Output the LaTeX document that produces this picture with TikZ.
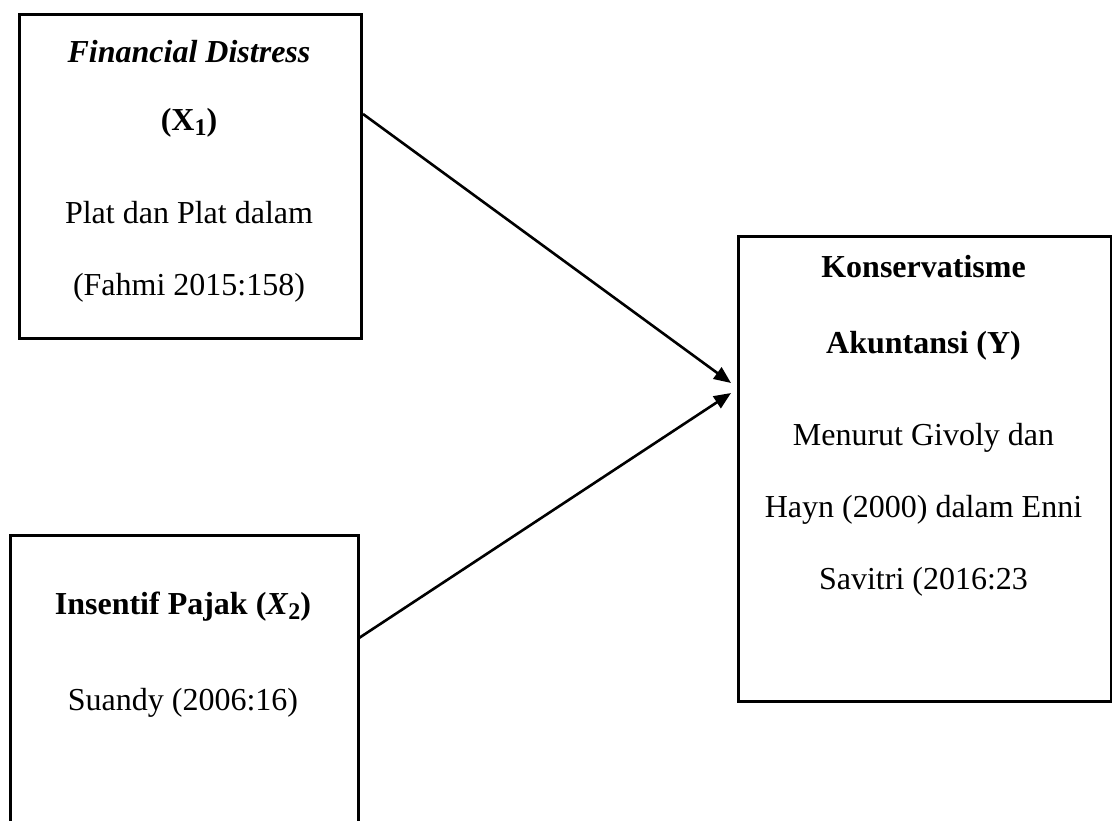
\documentclass[tikz,border=0pt]{standalone}
\usepackage{fontspec}
\setmainfont{Liberation Serif}
\usetikzlibrary{arrows.meta}
\newcommand{\subx}[1]{\raisebox{-0.4ex}{\fontsize{12}{12}\selectfont #1}}
\begin{document}
\begin{tikzpicture}[x=0.5pt,y=-0.5pt,
  box/.style={draw,line width=1.4pt,rectangle,anchor=north west,inner sep=0pt},
  txt/.style={anchor=base,inner sep=0pt,font=\fontsize{16}{19}\selectfont},
  arr/.style={line width=1.3pt,-{Triangle[length=8.5pt,width=7pt]}}]
\useasboundingbox (0,0) rectangle (1112,820);
% boxes
\node[box,minimum width=171pt,minimum height=162pt] (b1) at (18,13) {};
\node[box,minimum width=174pt,minimum height=148pt] (b2) at (9,534) {};
\node[box,minimum width=186.5pt,minimum height=232.5pt] (b3) at (737,235) {};
% box 1 text
\node[txt] (t11) at (189,62) {\textbf{\textit{Financial Distress}}};
\node[txt] (t12) at (189,130) {\textbf{(X\subx{1})}};
\node[txt] (t13) at (189,223) {Plat dan Plat dalam};
\node[txt] (t14) at (189,295) {(Fahmi 2015:158)};
% box 2 text
\node[txt] (t21) at (183,614) {\textbf{Insentif Pajak (\textit{X}\subx{2})}};
\node[txt] (t22) at (183,710) {Suandy (2006:16)};
% box 3 text
\node[txt] (t31) at (923.5,277) {\textbf{Konservatisme}};
\node[txt] (t32) at (923.5,353) {\textbf{Akuntansi (Y)}};
\node[txt] (t33) at (923.5,445) {Menurut Givoly dan};
\node[txt] (t34) at (923.5,517) {Hayn (2000) dalam Enni};
\node[txt] (t35) at (923.5,589) {Savitri (2016:23};
% arrows
\coordinate (s1) at (363,114);
\coordinate (e1) at (731,383);
\coordinate (s2) at (359,638);
\coordinate (e2) at (731,393);
\draw[arr] (s1) -- (e1);
\draw[arr] (s2) -- (e2);
\end{tikzpicture}
\end{document}
